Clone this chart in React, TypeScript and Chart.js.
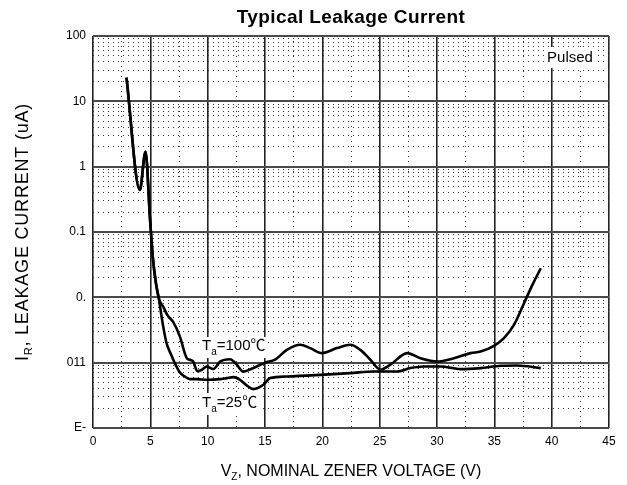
import React, { useEffect, useRef } from "react";
import { Chart, registerables } from "chart.js";

Chart.register(...registerables);

const chartTitle = "Typical Leakage Current";
const xTitleMain = "V";
const xTitleSub = "Z";
const xTitleRest = ", NOMINAL ZENER VOLTAGE (V)";
const yTitleMain = "I";
const yTitleSub = "R";
const yTitleRest = ", LEAKAGE CURRENT (uA)";
const pulsedLabel = "Pulsed";
const label100 = ["T", "a", "=100℃"];
const label25 = ["T", "a", "=25℃"];

const xMin = 0;
const xMax = 45;
const xMajorStep = 5;
const xMinorStep = 2.5;

const yDecades = [1e-4, 1e-3, 1e-2, 1e-1, 1, 10, 100];
const yDecadeLabels = ["E-", "011", "0.", "0.1", "1", "10", "100"];

// Ta = 100 C curve
const vz100 = [2.92, 4.08, 4.58, 4.98, 5.24, 5.5, 5.75, 6.12, 6.5, 6.99, 7.58, 8.0, 8.18, 8.5, 8.74, 9.1, 9.5, 9.91, 10.5, 11.08, 11.95, 12.5, 13.11, 13.99, 15.01, 15.88, 16.91, 18.07, 18.94, 19.97, 21.28, 22.44, 23.31, 24.19, 25.06, 25.93, 27.4, 28.56, 30.02, 31.47, 32.93, 33.8, 34.97, 35.84, 36.71, 37.59, 38.32, 39.05];
const ir100 = [23.1, 0.44, 1.69, 0.15, 0.037, 0.016, 0.0095, 0.0072, 0.0053, 0.0042, 0.0025, 0.0014, 0.00117, 0.0011, 0.00104, 0.00074, 0.00078, 0.00087, 0.0008, 0.00104, 0.00113, 0.00095, 0.00073, 0.00083, 0.001, 0.00111, 0.00157, 0.00188, 0.00167, 0.0014, 0.00167, 0.00188, 0.00157, 0.00111, 0.00078, 0.00093, 0.0014, 0.00117, 0.00104, 0.00117, 0.0014, 0.00148, 0.00181, 0.00237, 0.00378, 0.00813, 0.0155, 0.0279];

// Ta = 25 C curve
const vz25 = [2.92, 4.08, 4.58, 4.98, 5.24, 5.5, 5.75, 5.95, 6.12, 6.41, 6.75, 7.14, 7.6, 8.02, 8.45, 9.04, 9.91, 11.08, 11.66, 12.24, 12.82, 13.4, 13.99, 14.86, 15.45, 16.91, 19.82, 22.44, 24.48, 26.52, 27.68, 28.85, 30.31, 32.06, 33.8, 35.55, 37.0, 39.05];
const ir25 = [23.1, 0.44, 1.69, 0.15, 0.037, 0.016, 0.0095, 0.0055, 0.0036, 0.002, 0.0014, 0.00098, 0.0007, 0.00061, 0.00056, 0.00056, 0.000547, 0.00056, 0.00058, 0.0006, 0.000547, 0.00045, 0.000394, 0.000459, 0.00058, 0.000614, 0.000651, 0.000692, 0.000733, 0.000733, 0.000826, 0.000873, 0.000873, 0.000796, 0.000826, 0.000895, 0.000904, 0.000826];

const FONT = "'Liberation Sans', Arial, 'Noto Sans CJK SC', sans-serif";

const isXMajor = (t: any) => !!t && Math.abs(t.value / xMajorStep - Math.round(t.value / xMajorStep)) < 1e-6;
const isYMajor = (t: any) => {
  if (!t) return false;
  const l = Math.log10(t.value);
  return Math.abs(l - Math.round(l)) < 1e-6;
};

function drawSub(ctx: CanvasRenderingContext2D, main: string, sub: string, rest: string, x: number, y: number, size: number, subSize: number, subShift: number, align: "center" | "left", spacing = 0) {
  (ctx as any).letterSpacing = `${spacing}px`;
  ctx.textAlign = "left";
  ctx.textBaseline = "alphabetic";
  ctx.font = `${size}px ${FONT}`;
  const wm = ctx.measureText(main).width;
  const wr = ctx.measureText(rest).width;
  ctx.font = `${subSize}px ${FONT}`;
  const ws = ctx.measureText(sub).width;
  const total = wm + ws + wr;
  let sx = align === "center" ? x - total / 2 : x;
  ctx.font = `${size}px ${FONT}`;
  ctx.fillText(main, sx, y);
  sx += wm;
  ctx.font = `${subSize}px ${FONT}`;
  ctx.fillText(sub, sx, y + subShift);
  sx += ws;
  ctx.font = `${size}px ${FONT}`;
  ctx.fillText(rest, sx, y);
  (ctx as any).letterSpacing = "0px";
  return total;
}

const textPlugin = {
  id: "texts",
  afterDraw(chart: any) {
    const ctx: CanvasRenderingContext2D = chart.ctx;
    const a = chart.chartArea;
    const cx = (a.left + a.right) / 2;
    const cy = (a.top + a.bottom) / 2;
    ctx.save();
    ctx.fillStyle = "#000";
    // title
    (ctx as any).letterSpacing = "0.4px";
    ctx.font = `bold 19px ${FONT}`;
    ctx.textAlign = "center";
    ctx.textBaseline = "middle";
    ctx.fillText(chartTitle, cx, 18);
    (ctx as any).letterSpacing = "0px";
    // x title
    drawSub(ctx, xTitleMain, xTitleSub, xTitleRest, cx, 476, 16, 10, 4, "center");
    // y title
    ctx.save();
    ctx.translate(28, cy);
    ctx.rotate(-Math.PI / 2);
    drawSub(ctx, yTitleMain, yTitleSub, yTitleRest, 0, 0, 18, 11, 4, "center", 0.8);
    ctx.restore();
    // Pulsed
    ctx.fillStyle = "#fff";
    ctx.fillRect(544, 47, 52, 21);
    ctx.fillStyle = "#000";
    ctx.font = `15px ${FONT}`;
    ctx.textAlign = "center";
    ctx.textBaseline = "middle";
    ctx.fillText(pulsedLabel, 570, 58);
    // Ta labels
    ctx.fillStyle = "#fff";
    ctx.fillRect(201, 337, 65, 21);
    ctx.fillRect(201, 393, 62, 22);
    ctx.fillStyle = "#000";
    drawSub(ctx, label100[0], label100[1], label100[2], 202, 350, 15, 10, 5, "left");
    drawSub(ctx, label25[0], label25[1], label25[2], 202, 407, 15, 10, 5, "left");
    ctx.restore();
  },
};

export default function App() {
  const ref = useRef<HTMLCanvasElement>(null);
  useEffect(() => {
    const xTicks: number[] = [];
    for (let v = xMin; v <= xMax + 1e-9; v += xMinorStep) xTicks.push(v);
    const yTicks: number[] = [];
    for (let d = 0; d < yDecades.length - 1; d++) {
      for (let k = 1; k <= 9; k++) yTicks.push(k * yDecades[d]);
    }
    yTicks.push(yDecades[yDecades.length - 1]);

    const chart = new Chart(ref.current!, {
      type: "line",
      data: {
        datasets: [
          {
            label: "Ta=100",
            data: vz100.map((x, i) => ({ x, y: ir100[i] })),
            borderColor: "#000",
            borderWidth: 2.6,
            pointRadius: 0,
            cubicInterpolationMode: "monotone",
            fill: false,
          },
          {
            label: "Ta=25",
            data: vz25.map((x, i) => ({ x, y: ir25[i] })),
            borderColor: "#000",
            borderWidth: 2.6,
            pointRadius: 0,
            cubicInterpolationMode: "monotone",
            fill: false,
          },
        ],
      },
      options: {
        responsive: false,
        animation: false,
        devicePixelRatio: 1,
        layout: { padding: { top: 36, right: 18, bottom: 0, left: 0 } },
        plugins: { legend: { display: false }, title: { display: false }, tooltip: { enabled: false } },
        scales: {
          x: {
            type: "linear",
            min: xMin,
            max: xMax,
            afterBuildTicks: (s: any) => {
              s.ticks = xTicks.map((v) => ({ value: v }));
            },
            afterFit: (s: any) => {
              s.height = 57;
            },
            ticks: {
              autoSkip: false,
              maxRotation: 0,
              padding: 6,
              color: "#000",
              font: { size: 12, family: FONT },
              callback: (v: any) => (Math.abs(v / xMajorStep - Math.round(v / xMajorStep)) < 1e-6 ? String(v) : ""),
            },
            grid: {
              drawTicks: false,
              color: (c: any) => (isXMajor(c.tick) ? "#222" : "#333"),
              lineWidth: (c: any) => (isXMajor(c.tick) ? 1.6 : 1),
            },
            border: {
              display: false,
              dash: (c: any) => (c.tick && !isXMajor(c.tick) ? [1, 4] : []),
            },
          },
          y: {
            type: "logarithmic",
            min: yDecades[0],
            max: yDecades[yDecades.length - 1],
            afterBuildTicks: (s: any) => {
              s.ticks = yTicks.map((v) => ({ value: v }));
            },
            afterFit: (s: any) => {
              s.width = 93;
            },
            ticks: {
              autoSkip: false,
              padding: 7,
              color: "#000",
              font: { size: 12, family: FONT },
              callback: (v: any) => {
                const l = Math.log10(v);
                if (Math.abs(l - Math.round(l)) > 1e-6) return "";
                const idx = yDecades.findIndex((d) => Math.abs(Math.log10(d) - l) < 1e-6);
                return idx >= 0 ? yDecadeLabels[idx] : "";
              },
            },
            grid: {
              drawTicks: false,
              color: (c: any) => (isYMajor(c.tick) ? "#4a4a4a" : "#333"),
              lineWidth: (c: any) => (isYMajor(c.tick) ? 2 : 1),
            },
            border: {
              display: false,
              dash: (c: any) => (c.tick && !isYMajor(c.tick) ? [1, 4] : []),
            },
          },
        },
      } as any,
      plugins: [textPlugin],
    });
    return () => chart.destroy();
  }, []);
  return (
    <div style={{ position: "absolute", left: 0, top: 0, width: 627, height: 485, background: "#fff" }}>
      <canvas ref={ref} width={627} height={485} style={{ display: "block", width: 627, height: 485 }} />
    </div>
  );
}
